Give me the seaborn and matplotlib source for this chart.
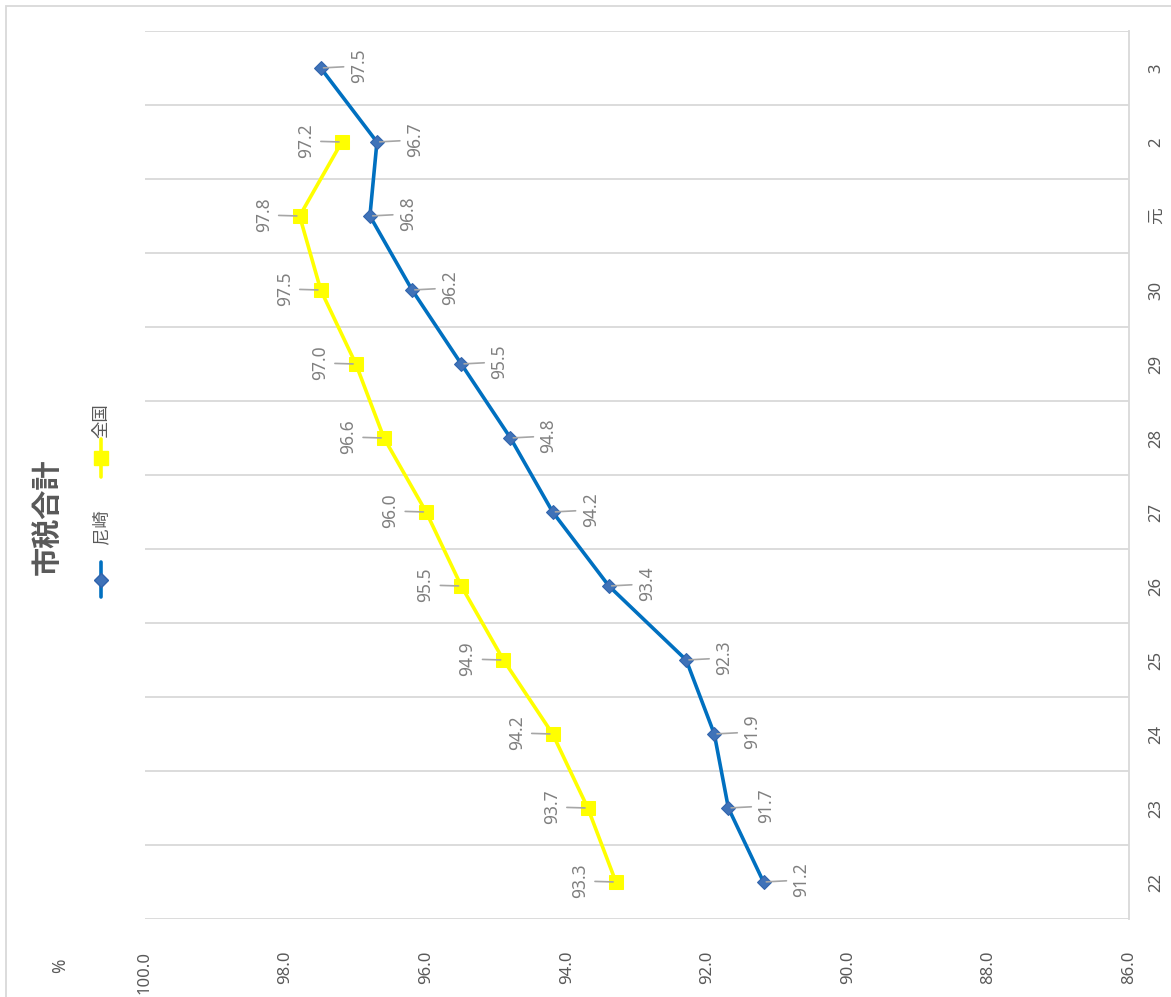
"""市税合計 line chart (rotated layout)."""

import matplotlib
matplotlib.use("Agg")
import matplotlib.pyplot as plt
import numpy as np
import pandas as pd
import seaborn as sns
from matplotlib.lines import Line2D
from matplotlib.patches import Rectangle

years = ["22", "23", "24", "25", "26", "27", "28", "29", "30", "元", "2", "3"]
amagasaki = [91.2, 91.7, 91.9, 92.3, 93.4, 94.2, 94.8, 95.5, 96.2, 96.8, 96.7, 97.5]
national = [93.3, 93.7, 94.2, 94.9, 95.5, 96.0, 96.6, 97.0, 97.5, 97.8, 97.2, np.nan]
value_ticks = [100.0, 98.0, 96.0, 94.0, 92.0, 90.0, 88.0, 86.0]

BLUE = "#0070C0"
YELLOW = "#FFFF00"
TEXT = "#595959"
GRID = "#D9D9D9"

sns.set_style("white")
plt.rcParams["font.family"] = ["Noto Sans", "Noto Sans CJK JP", "DejaVu Sans"]

df = pd.DataFrame({"pos": np.arange(len(years)), "尼崎": amagasaki, "全国": national})

fig = plt.figure(figsize=(11.71, 9.97), dpi=100)
ax = fig.add_axes([145 / 1171, 1 - 919 / 997, (1129 - 145) / 1171, (919 - 31) / 997])

sns.lineplot(data=df, x="尼崎", y="pos", sort=False, estimator=None, orient="y",
             color=BLUE, lw=2.6, marker="D", markersize=7.5,
             markerfacecolor="#3F72B8", markeredgecolor="#2F63AC", ax=ax)
nat = df.dropna(subset=["全国"])
sns.lineplot(data=nat, x="全国", y="pos", sort=False, estimator=None, orient="y",
             color=YELLOW, lw=2.6, marker="s", markersize=10,
             markerfacecolor=YELLOW, markeredgecolor=YELLOW, ax=ax)

# data labels with leader lines
leader = dict(arrowstyle="-", color="#A6A6A6", lw=1.2, shrinkA=2, shrinkB=2)
for i, v in enumerate(amagasaki):
    ax.annotate(f"{v:.1f}", (v, i), xytext=(38, 2), textcoords="offset pixels",
                rotation=90, ha="center", va="center", fontsize=12.5, color="#808080",
                arrowprops=leader)
for i, v in enumerate(national):
    if np.isnan(v):
        continue
    ax.annotate(f"{v:.1f}", (v, i), xytext=(-36, 1), textcoords="offset pixels",
                rotation=90, ha="center", va="center", fontsize=12.5, color="#808080",
                arrowprops=leader)

ax.set_xlim(100, 86)
ax.set_ylim(-0.5, len(years) - 0.5)
ax.set_xticks(value_ticks)
ax.set_xticklabels([f"{t:.1f}" for t in value_ticks], rotation=90, fontsize=12, color=TEXT)
ax.set_yticks(df["pos"])
ax.set_yticklabels(years, rotation=90, fontsize=12, color=TEXT, va="center")
ax.yaxis.tick_right()
ax.tick_params(axis="x", length=0, pad=23)
ax.tick_params(axis="y", which="both", length=0, pad=14)
ax.set_yticks(np.arange(len(years) + 1) - 0.5, minor=True)
ax.grid(which="minor", axis="y", color=GRID, lw=1.3)
ax.grid(which="major", visible=False)
ax.set_xlabel("")
ax.set_ylabel("")
for side in ["left", "top", "bottom"]:
    ax.spines[side].set_visible(False)
ax.spines["right"].set_color(GRID)
ax.spines["right"].set_linewidth(1.3)

# axis unit, title, legend (all rotated like the rest)
fig.text(60 / 1171, 1 - 966 / 997, "%", rotation=90, ha="center", va="center",
         fontsize=12.5, color=TEXT)
fig.text(48 / 1171, 1 - 517 / 997, "市税合計", rotation=90, ha="center", va="center",
         fontsize=21, fontweight="bold", color=TEXT)

lx = 101 / 1171
fig.add_artist(Line2D([lx, lx], [1 - 597 / 997, 1 - 562 / 997], color=BLUE, lw=2.6))
fig.add_artist(Line2D([lx], [1 - 580 / 997], marker="D", markersize=7.5, color="#3F72B8",
                      markeredgecolor="#2F63AC"))
fig.text(lx, 1 - 527 / 997, "尼崎", rotation=90, ha="center", va="center",
         fontsize=12.5, color=TEXT)
fig.add_artist(Line2D([lx, lx], [1 - 477 / 997, 1 - 439 / 997], color=YELLOW, lw=2.6))
fig.add_artist(Line2D([lx], [1 - 458 / 997], marker="s", markersize=10, color=YELLOW))
fig.text(lx, 1 - 421 / 997, "全国", rotation=90, ha="center", va="center",
         fontsize=12.5, color=TEXT)

fig.add_artist(Rectangle((6 / 1171, -0.01), 1.0, 1 - 6 / 997 + 0.01,
                         transform=fig.transFigure, fill=False, edgecolor=GRID, lw=1.3))

fig.savefig("out.png", dpi=100)
plt.close(fig)
